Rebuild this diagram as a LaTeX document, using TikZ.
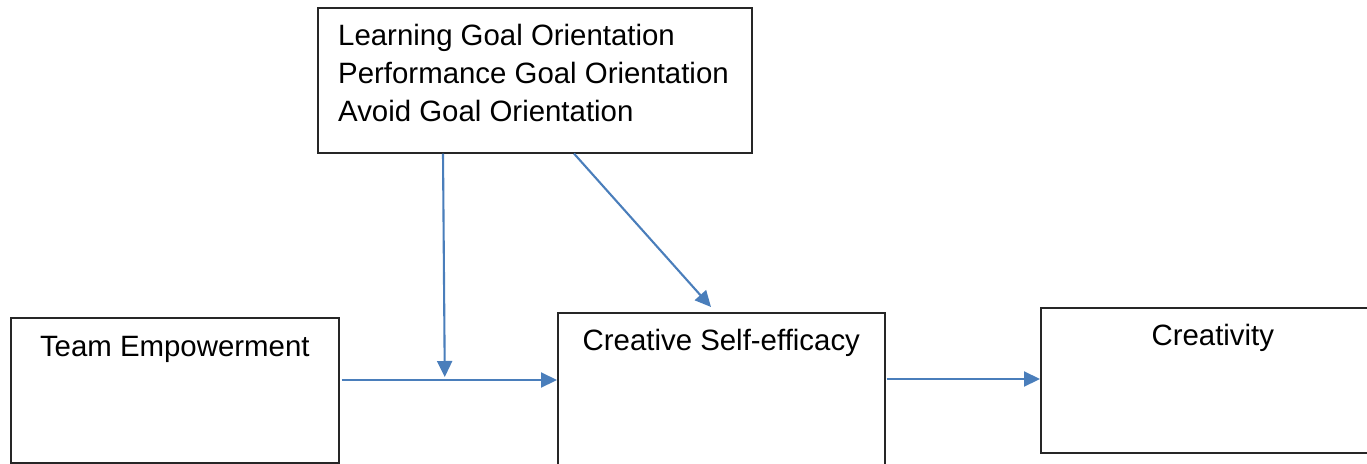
\documentclass[tikz,border=0pt]{standalone}
\usepackage{fontspec}
\setmainfont{Liberation Sans}
\usetikzlibrary{arrows.meta}
\definecolor{arrblue}{HTML}{4A7EBB}
\begin{document}
\begin{tikzpicture}[x=1pt,y=-1pt,
  box/.style={draw=black!85, line width=1.6pt, rectangle, inner sep=0pt, anchor=north west},
  txt/.style={inner sep=0pt, font=\fontsize{29.4}{38}\selectfont},
  arr/.style={draw=arrblue, line width=2.1pt, -{Triangle[length=16pt,width=15pt]}}]
\useasboundingbox (0,0) rectangle (1367,463);
\begin{scope}
\clip (0,0) rectangle (1367,463);
% boxes
\node[box, minimum width=434pt, minimum height=145pt] (goal) at (317,7) {};
\node[box, minimum width=328pt, minimum height=145pt] (team) at (10,317) {};
\node[box, minimum width=327pt, minimum height=160pt] (cse) at (557,312) {};
\node[box, minimum width=330pt, minimum height=145pt] (crea) at (1040,307) {};
\end{scope}
% texts
\node[txt, anchor=base west] (g1) at ([shift={(21,38)}]goal.north west) {Learning Goal Orientation};
\node[txt, anchor=base west] (g2) at ([shift={(21,76)}]goal.north west) {Performance Goal Orientation};
\node[txt, anchor=base west] (g3) at ([shift={(21,114)}]goal.north west) {Avoid Goal Orientation};
\node[txt, anchor=base] (tt) at ([shift={(0,39)}]team.north) {Team Empowerment};
\node[txt, anchor=base] (ct) at ([shift={(0,38)}]cse.north) {Creative Self-efficacy};
\node[txt, anchor=base] (rt) at ([shift={(7,38)}]crea.north) {Creativity};
% connectors
\coordinate (tstart) at ([shift={(2,63)}]team.north east);
\coordinate (tend) at ([shift={(0,68)}]cse.north west);
\draw[arr] (tstart) -- (tend);
\path (tstart) -- (tend) coordinate[pos=0.479, yshift=3pt] (vend);
\coordinate (vtop) at ([shift={(126,0)}]goal.south west);
\draw[arr] (vtop) -- (vend);
\draw[arr] ([shift={(257,0)}]goal.south west) -- ([shift={(154,-5)}]cse.north west);
\draw[arr] ([shift={(1,67)}]cse.north east) -- ([shift={(0,72)}]crea.north west);
\end{tikzpicture}
\end{document}
